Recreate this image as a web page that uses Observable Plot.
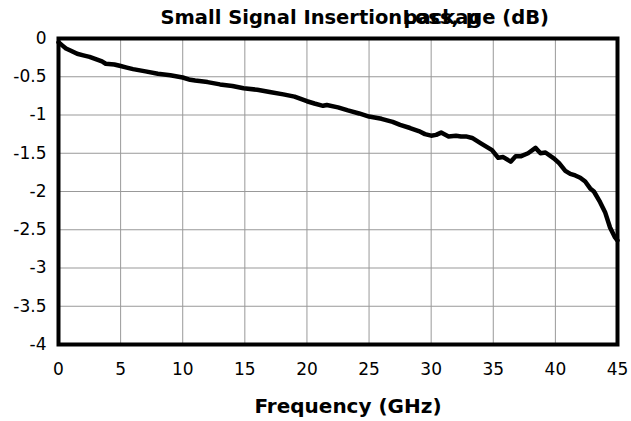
<!DOCTYPE html>
<html>
<head>
<meta charset="utf-8">
<script src="https://cdn.jsdelivr.net/npm/d3@7"></script>
<script src="https://cdn.jsdelivr.net/npm/@observablehq/plot@0.6"></script>
<style>
  html, body { margin: 0; padding: 0; background: #fff; }
</style>
</head>
<body>
<div id="chart"></div>
<script>
const freqGHz = [0, 0.3, 0.6, 1, 1.5, 2, 2.5, 3, 3.5, 3.8, 4.5, 5, 5.5, 6, 7, 8, 9, 10, 10.6, 11, 12, 13, 14, 14.9, 16, 17, 18.1, 19, 20, 20.6, 21.3, 21.6, 22.5, 23.3, 24.2, 25, 26, 26.9, 27.5, 28.3, 29, 29.5, 30, 30.4, 30.8, 31.4, 32, 32.4, 32.8, 33.3, 34, 34.5, 34.9, 35.4, 35.8, 36.4, 36.8, 37.2, 37.8, 38.4, 38.8, 39.2, 39.9, 40.3, 40.8, 41.2, 41.6, 42, 42.4, 42.8, 43.1, 43.6, 44, 44.4, 44.8, 45];
const lossDB = [-0.05, -0.09, -0.13, -0.16, -0.2, -0.22, -0.24, -0.27, -0.3, -0.33, -0.34, -0.36, -0.38, -0.4, -0.43, -0.46, -0.48, -0.51, -0.54, -0.55, -0.57, -0.6, -0.62, -0.65, -0.67, -0.7, -0.73, -0.76, -0.82, -0.85, -0.88, -0.87, -0.9, -0.94, -0.98, -1.02, -1.05, -1.09, -1.13, -1.17, -1.21, -1.25, -1.27, -1.26, -1.23, -1.28, -1.27, -1.28, -1.28, -1.3, -1.37, -1.42, -1.46, -1.56, -1.55, -1.61, -1.54, -1.54, -1.5, -1.43, -1.5, -1.49, -1.57, -1.63, -1.73, -1.77, -1.79, -1.82, -1.87, -1.96, -2.0, -2.14, -2.27, -2.47, -2.6, -2.64];
const xTicks = [0, 5, 10, 15, 20, 25, 30, 35, 40, 45];
const yTicks = [0, -0.5, -1, -1.5, -2, -2.5, -3, -3.5, -4];
const titleMain = "Small Signal Insertion";
const titleOverlapA = "Loss, μ";
const titleOverlapB = "package (dB)";
const xLabel = "Frequency (GHz)";

const data = freqGHz.map((f, i) => ({f, v: lossDB[i]}));

const chart = Plot.plot({
  width: 631,
  height: 421,
  marginLeft: 58,
  marginRight: 14,
  marginTop: 38,
  marginBottom: 77,
  style: {fontFamily: "DejaVu Sans", fontSize: "17px", color: "#000", background: "#fff"},
  x: {domain: [0, 45], label: null},
  y: {domain: [-4, 0], label: null},
  marks: [
    Plot.gridX(xTicks, {stroke: "#999", strokeOpacity: 1, strokeWidth: 1}),
    Plot.gridY(yTicks, {stroke: "#999", strokeOpacity: 1, strokeWidth: 1}),
    Plot.line(data, {x: "f", y: "v", stroke: "#000", strokeWidth: 4.5, curve: "linear", strokeLinejoin: "round", strokeLinecap: "round"}),
    Plot.frame({stroke: "#000", strokeWidth: 4}),
    Plot.axisX({ticks: xTicks, tickSize: 0, tickPadding: 18, tickFormat: d => String(d), fontSize: 17, label: null}),
    Plot.axisY({ticks: yTicks, tickSize: 0, tickPadding: 12, tickFormat: d => String(d), fontSize: 17, label: null}),
    Plot.text([titleMain], {frameAnchor: "top-left", lineAnchor: "middle", dx: 102, dy: -21, textAnchor: "start", fontWeight: "bold", fontSize: 19.5, text: d => d}),
    Plot.text([titleOverlapA], {frameAnchor: "top-left", lineAnchor: "middle", dx: 344, dy: -21, textAnchor: "start", fontWeight: "bold", fontSize: 19.5, text: d => d}),
    Plot.text([titleOverlapB], {frameAnchor: "top-left", lineAnchor: "middle", dx: 345, dy: -21, textAnchor: "start", fontWeight: "bold", fontSize: 19.5, text: d => d}),
    Plot.text([xLabel], {frameAnchor: "bottom", lineAnchor: "middle", dx: 10, dy: 62, fontWeight: "bold", fontSize: 20, text: d => d})
  ]
});
document.getElementById("chart").appendChild(chart);
</script>
</body>
</html>
